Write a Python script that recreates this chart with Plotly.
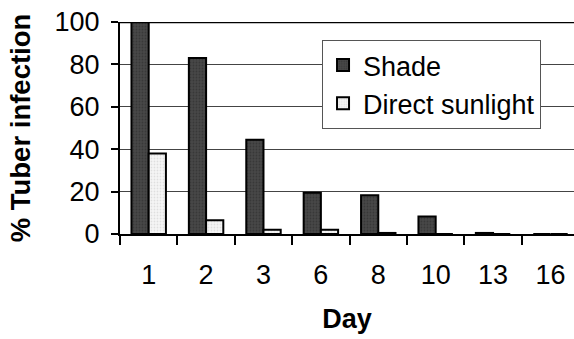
import plotly.graph_objects as go

days = ["1", "2", "3", "6", "8", "10", "13", "16"]
shade = [100, 83, 44.5, 19.5, 18.3, 8.2, 0.5, 0]
sunlight = [38, 6.5, 2, 2, 0.5, 0, 0, 0]
y_ticks = [0, 20, 40, 60, 80, 100]

fig = go.Figure()
fig.add_trace(go.Bar(
    x=days, y=shade, name="Shade", legendgroup="a",
    marker=dict(color="#474747", line=dict(color="black", width=2),
                pattern=dict(shape=".", fgcolor="#2a2a2a", size=3, solidity=0.3)),
))
fig.add_trace(go.Bar(
    x=days, y=sunlight, name="Direct sunlight", legendgroup="b",
    marker=dict(color="#f6f6f6", line=dict(color="black", width=2),
                pattern=dict(shape=".", fgcolor="#c8c8c8", size=3, solidity=0.3)),
))

# heavy frame line along the top of the plot area
fig.add_shape(type="line", xref="paper", yref="y", x0=0, x1=1, y0=100, y1=100,
              line=dict(color="black", width=2.5))

font = "Arial, Liberation Sans, sans-serif"
fig.update_layout(
    width=574, height=339,
    margin=dict(l=120, r=0, t=22, b=105),
    paper_bgcolor="white", plot_bgcolor="white",
    barmode="group", bargap=0.4, bargroupgap=0,
    font=dict(family=font, size=27, color="black"),
    showlegend=True,
    legend=dict(x=0.445, y=0.915, xanchor="left", yanchor="top",
                bgcolor="white", bordercolor="#555555", borderwidth=1,
                font=dict(size=27), tracegroupgap=0, traceorder="grouped"),
    xaxis=dict(
        range=[-0.5, 7.41], type="category",
        showline=True, linecolor="black", linewidth=2,
        ticks="outside", tickson="boundaries", ticklen=9, tickwidth=1.5, tickcolor="black",
        ticklabelstandoff=16,
        title=dict(text="<b>Day</b>", font=dict(size=27), standoff=20),
        showgrid=False,
    ),
    yaxis=dict(
        range=[0, 100], tickvals=y_ticks,
        showline=True, linecolor="black", linewidth=2,
        ticks="outside", ticklen=7, tickwidth=1.5, tickcolor="black",
        ticklabelstandoff=6,
        showgrid=True, gridcolor="#444444", gridwidth=1,
        zeroline=False,
        title=dict(text="<b>% Tuber infection</b>", font=dict(size=27.5), standoff=16),
    ),
)

fig.write_html("out.html")
